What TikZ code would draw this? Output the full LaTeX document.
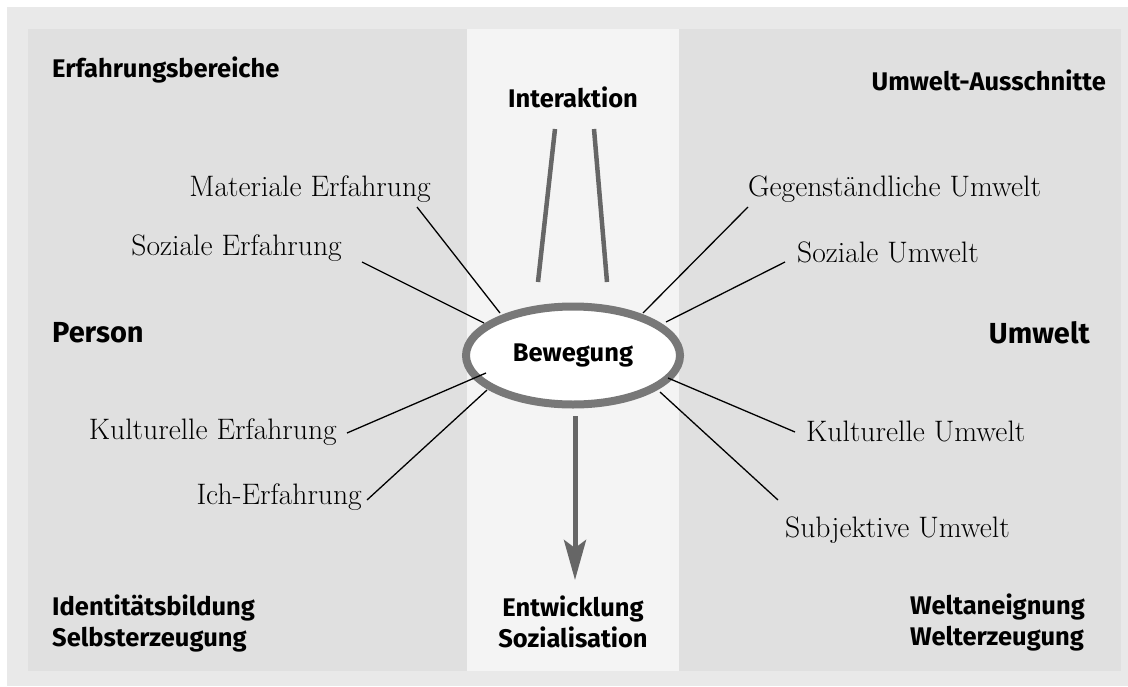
\documentclass[tikz,border=0pt]{standalone}
\usepackage{fontspec}
\newfontfamily\hdfont{Fira Sans}
\usetikzlibrary{shapes.geometric,arrows.meta}
\definecolor{outerg}{HTML}{E9E9E9}
\definecolor{sideg}{HTML}{E0E0E0}
\definecolor{midg}{HTML}{F4F4F4}
\definecolor{elg}{HTML}{787878}
\definecolor{lng}{HTML}{666666}
\tikzset{
  hd/.style={inner sep=0pt, font=\hdfont\bfseries\fontsize{25.5}{31}\selectfont, align=left},
  hdbig/.style={inner sep=0pt, font=\hdfont\bfseries\fontsize{29}{35}\selectfont},
  lab/.style={inner sep=0pt, font=\fontsize{29.6}{34}\selectfont},
  spoke/.style={line width=1.3pt, black},
  inter/.style={line width=4.5pt, lng},
  devarrow/.style={line width=5pt, lng, -{Stealth[length=40pt,width=22pt,inset=8pt]}}
}
\begin{document}
\begin{tikzpicture}[x=1pt,y=-1pt]
\useasboundingbox (0,0) rectangle (1128,686);
\fill[white] (0,0) rectangle (1128,686);
\fill[outerg] (7,7) rectangle (1128,686);
\fill[sideg] (28,29) rectangle (1121,671);
\fill[midg] (467,29) rectangle (679,671);

% headings
\node[hd, anchor=west] (erf) at (52,70) {Erfahrungsbereiche};
\node[hd, anchor=east] (uaus) at (1106,80) {Umwelt-Ausschnitte};
\node[hd] (inter) at (573,97) {Interaktion};
\node[hdbig, anchor=west] (person) at (52,333) {Person};
\node[hdbig, anchor=east] (umwelt) at (1090,333) {Umwelt};
\node[hd, anchor=west] (ident) at (52,623) {Identitätsbildung\\Selbsterzeugung};
\node[hd, align=center] (entw) at (573,622) {Entwicklung\\Sozialisation};
\node[hd, anchor=east] (welt) at (1085,622) {Weltaneignung\\Welterzeugung};

% centre
\node[draw=elg, line width=8pt, fill=white, ellipse, minimum width=214pt, minimum height=98pt, inner sep=0pt,
      font=\hdfont\bfseries\fontsize{25.5}{30}\selectfont] (bew) at (573,355.5) {Bewegung};

% labels
\node[lab, anchor=east] (mat) at (431,189) {Materiale Erfahrung};
\node[lab, anchor=east] (soze) at (342,248) {Soziale Erfahrung};
\node[lab, anchor=east] (kule) at (337,432) {Kulturelle Erfahrung};
\node[lab, anchor=east] (iche) at (362,497) {Ich-Erfahrung};
\node[lab, anchor=west] (geg) at (748,189) {Gegenständliche Umwelt};
\node[lab, anchor=west] (sozu) at (797,252) {Soziale Umwelt};
\node[lab, anchor=west] (kulu) at (806,431) {Kulturelle Umwelt};
\node[lab, anchor=west] (subu) at (785,530) {Subjektive Umwelt};

% spoke end points
\coordinate (matA) at (417,207); \coordinate (matB) at (500,313);
\coordinate (sozeA) at (362,262); \coordinate (sozeB) at (484,323);
\coordinate (kuleA) at (347,433); \coordinate (kuleB) at (486,373);
\coordinate (icheA) at (367,500); \coordinate (icheB) at (487,390);
\coordinate (gegA) at (748,207); \coordinate (gegB) at (643,313);
\coordinate (sozuA) at (785,262); \coordinate (sozuB) at (666,322);
\coordinate (kuluA) at (795,432); \coordinate (kuluB) at (668,378);
\coordinate (subuA) at (778,500); \coordinate (subuB) at (660,392);
\foreach \n in {mat,soze,kule,iche,geg,sozu,kulu,subu}
  \draw[spoke] (\n A) -- (\n B);

% interaction lines
\coordinate (iLt) at (555,129); \coordinate (iLb) at (538,282);
\coordinate (iRt) at (594,129); \coordinate (iRb) at (607,282);
\draw[inter] (iLt) -- (iLb);
\draw[inter] (iRt) -- (iRb);

% development arrow
\coordinate (aS) at (575,416); \coordinate (aE) at (575,580);
\draw[devarrow] (aS) -- (aE);
\end{tikzpicture}
\end{document}
